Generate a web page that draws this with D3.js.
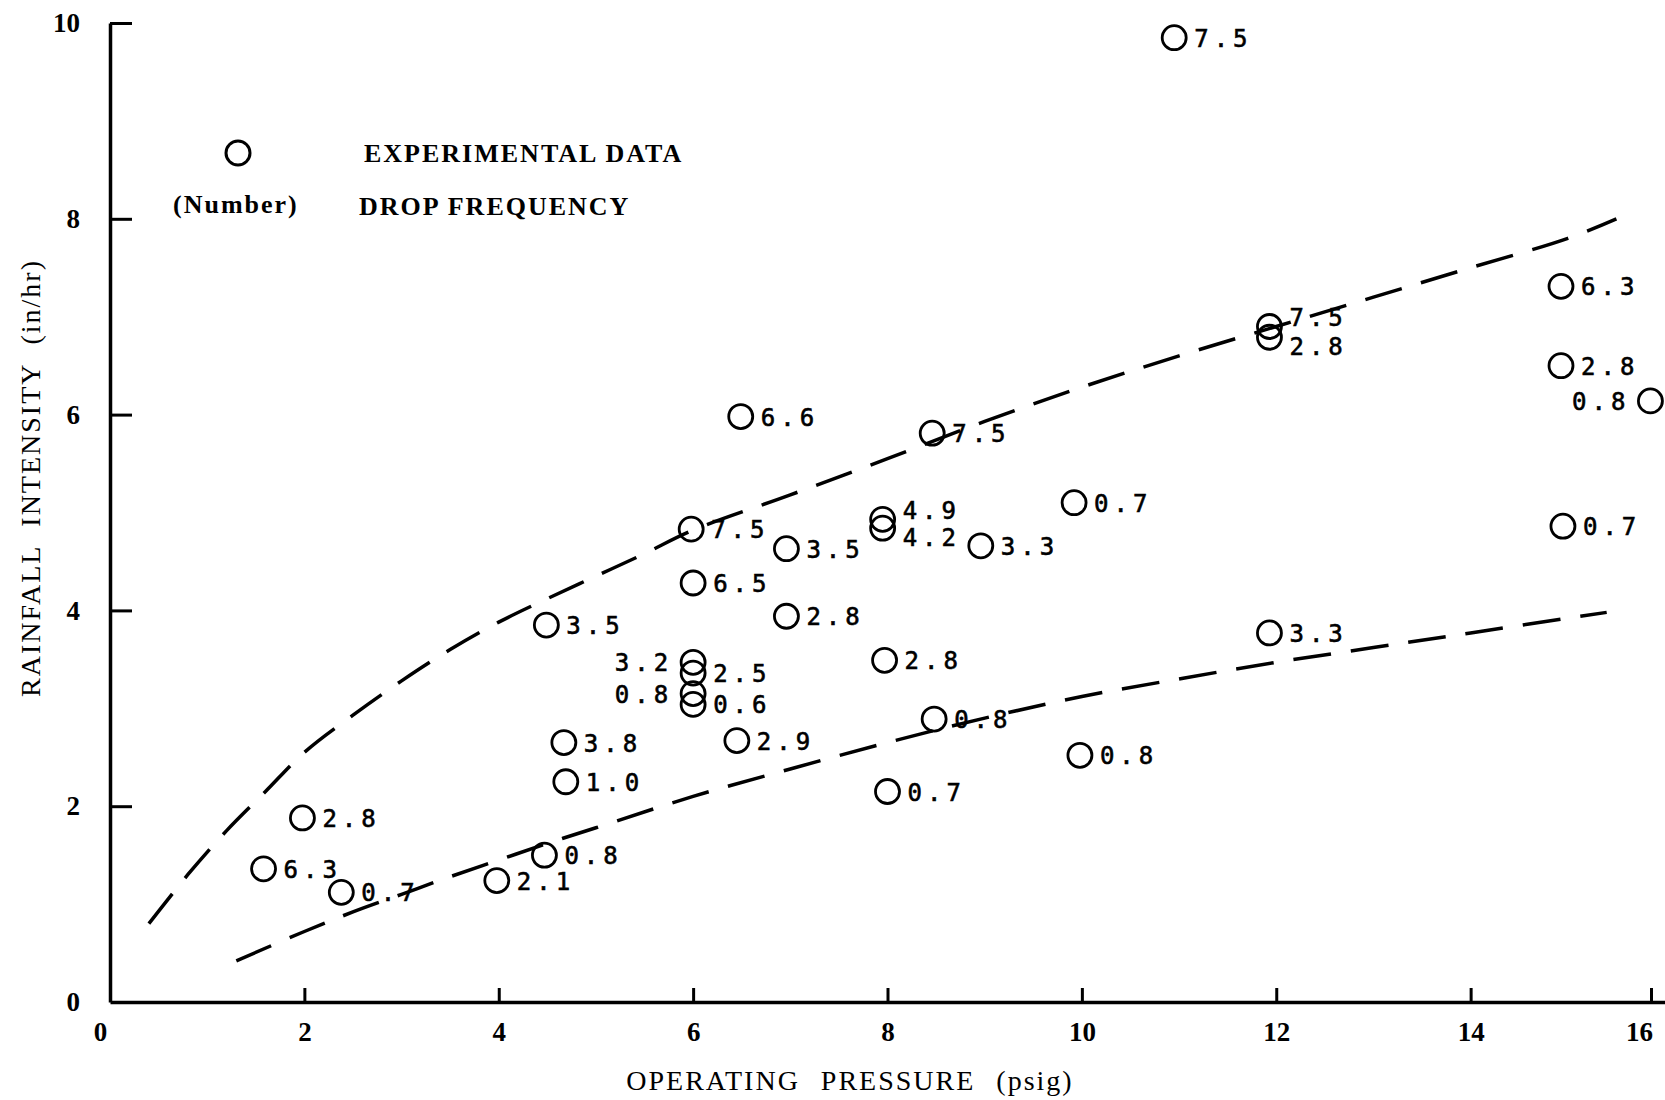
<!DOCTYPE html>
<html>
<head>
<meta charset="utf-8">
<script src="https://cdn.jsdelivr.net/npm/d3@7"></script>
<style>
  body { margin: 0; background: #fff; }
  svg { display: block; }
</style>
</head>
<body>
<script>
const width = 1665;
const height = 1100;

// experimental points: operating pressure (psig), rainfall intensity (in/hr), drop frequency label
const pressure = [10.95, 14.93, 14.93, 15.85, 14.95, 11.93, 11.93, 11.93, 6.49, 8.46, 9.92, 7.95, 7.95, 8.96,
    5.98, 6.96, 6.0, 6.96, 4.49, 7.97, 6.0, 6.0, 6.0, 6.0, 4.67, 6.45, 8.48, 9.98, 4.69, 8.0, 1.98, 1.58, 2.38, 3.98, 4.47];
const intensity = [9.85, 7.31, 6.50, 6.14, 4.86, 6.90, 6.79, 3.77, 5.98, 5.81, 5.10, 4.93, 4.84, 4.66,
    4.83, 4.63, 4.28, 3.94, 3.85, 3.49, 3.47, 3.36, 3.15, 3.04, 2.65, 2.67, 2.89, 2.52, 2.25, 2.15, 1.88, 1.36, 1.12, 1.24, 1.50];
const dropFreq = ["7.5", "6.3", "2.8", "0.8", "0.7", "7.5", "2.8", "3.3", "6.6", "7.5", "0.7", "4.9", "4.2", "3.3",
    "7.5", "3.5", "6.5", "2.8", "3.5", "2.8", "3.2", "2.5", "0.8", "0.6", "3.8", "2.9", "0.8", "0.8", "1.0", "0.7", "2.8", "6.3", "0.7", "2.1", "0.8"];

// dashed envelope curves
const upperX = [0.4, 0.8, 1.2, 1.6, 2.0, 2.5, 3.0, 3.5, 4.0, 4.5, 5.0, 5.5, 6.0, 7.0, 8.0, 9.0, 10.0, 11.0, 12.0, 13.0, 14.0, 15.0, 15.5];
const upperY = [0.8, 1.3, 1.75, 2.15, 2.55, 2.93, 3.28, 3.6, 3.88, 4.12, 4.35, 4.58, 4.82, 5.18, 5.55, 5.93, 6.28, 6.6, 6.9, 7.2, 7.5, 7.8, 8.0];
const lowerX = [1.3, 2.0, 2.5, 3.0, 3.5, 4.0, 4.5, 5.0, 6.0, 7.0, 8.0, 9.0, 10.0, 11.0, 12.0, 13.0, 14.0, 15.4];
const lowerY = [0.42, 0.72, 0.92, 1.1, 1.28, 1.45, 1.62, 1.78, 2.1, 2.38, 2.65, 2.9, 3.12, 3.3, 3.47, 3.62, 3.77, 3.98];

const xTicks = [0, 2, 4, 6, 8, 10, 12, 14, 16];
const yTicks = [0, 2, 4, 6, 8, 10];

const svg = d3.select("body").append("svg")
    .attr("width", width)
    .attr("height", height);

const x = d3.scaleLinear().domain([0, 16]).range([110, 1665]);
const y = d3.scaleLinear().domain([0, 10]).range([1002, 23]);

const serif = "'Liberation Serif', 'DejaVu Serif', serif";
const mono = "'DejaVu Sans Mono', 'Liberation Mono', monospace";

// axes
const xAxis = svg.append("g")
    .attr("transform", `translate(0, ${y(0)})`)
    .call(d3.axisBottom(x).tickValues(xTicks).tickSizeInner(-14).tickSizeOuter(0).tickPadding(20));
const yAxis = svg.append("g")
    .attr("transform", `translate(${x(0)}, 0)`)
    .call(d3.axisLeft(y).tickValues(yTicks).tickSizeInner(-22).tickSizeOuter(0).tickPadding(30));

[xAxis, yAxis].forEach(g => {
    g.select(".domain").attr("stroke", "#000").attr("stroke-width", 3.5);
    g.selectAll(".tick line").attr("stroke", "#000").attr("stroke-width", 3);
    g.selectAll(".tick text")
        .attr("fill", "#000")
        .style("font-family", serif)
        .style("font-weight", "bold")
        .style("font-size", "27px");
});
xAxis.selectAll(".tick").filter(d => d === 0).select("line").remove();
yAxis.selectAll(".tick").filter(d => d === 0).select("line").remove();
xAxis.selectAll(".tick").filter(d => d === 0).select("text").attr("dx", -10);
xAxis.selectAll(".tick").filter(d => d === 16).select("text").attr("dx", -26);
xAxis.selectAll(".tick").filter(d => d === 16).select("line").attr("x1", -14).attr("x2", -14);

// dashed curves
const line = d3.line().x(d => x(d[0])).y(d => y(d[1])).curve(d3.curveCatmullRom);
[[upperX, upperY], [lowerX, lowerY]].forEach(([xs, ys]) => {
    svg.append("path")
        .datum(xs.map((v, i) => [v, ys[i]]))
        .attr("d", line)
        .attr("fill", "none")
        .attr("stroke", "#000")
        .attr("stroke-width", 3.5)
        .attr("stroke-dasharray", "38,20");
});

// points
const leftLabels = new Set([3, 20, 22]);
const labelShift = { 5: -9, 6: 9, 11: -9, 12: 9 };
const pts = pressure.map((p, i) => ({ p: p, r: intensity[i], f: dropFreq[i], i: i }));

svg.append("g")
    .selectAll("circle")
    .data(pts)
    .enter()
    .append("circle")
    .attr("cx", d => x(d.p))
    .attr("cy", d => y(d.r))
    .attr("r", 12)
    .attr("fill", "none")
    .attr("stroke", "#000")
    .attr("stroke-width", 2.8);

svg.append("g")
    .selectAll("text")
    .data(pts)
    .enter()
    .append("text")
    .attr("x", d => leftLabels.has(d.i) ? x(d.p) - 20 : x(d.p) + 20)
    .attr("y", d => y(d.r) + 9 + (labelShift[d.i] || 0))
    .attr("text-anchor", d => leftLabels.has(d.i) ? "end" : "start")
    .style("font-family", mono)
    .style("font-size", "24px")
    .style("letter-spacing", "5px")
    .attr("stroke", "#000")
    .attr("stroke-width", 0.6)
    .text(d => d.f);

// legend
svg.append("circle")
    .attr("cx", 238).attr("cy", 153).attr("r", 12)
    .attr("fill", "none").attr("stroke", "#000").attr("stroke-width", 3);

const legendText = [
    { t: "EXPERIMENTAL DATA", x: 364, y: 162 },
    { t: "(Number)", x: 173, y: 213 },
    { t: "DROP FREQUENCY", x: 359, y: 215 }
];
svg.append("g")
    .selectAll("text")
    .data(legendText)
    .enter()
    .append("text")
    .attr("x", d => d.x)
    .attr("y", d => d.y)
    .style("font-family", serif)
    .style("font-weight", "bold")
    .style("font-size", "26px")
    .style("letter-spacing", "2px")
    .text(d => d.t);

// axis titles
svg.append("text")
    .attr("x", 850)
    .attr("y", 1090)
    .attr("text-anchor", "middle")
    .style("font-family", serif)
    .style("font-size", "28px")
    .style("letter-spacing", "2px")
    .style("word-spacing", "12px")
    .text("OPERATING PRESSURE (psig)");

svg.append("text")
    .attr("transform", "translate(40, 478) rotate(-90)")
    .attr("text-anchor", "middle")
    .style("font-family", serif)
    .style("font-size", "28px")
    .style("letter-spacing", "2px")
    .style("word-spacing", "10px")
    .text("RAINFALL INTENSITY (in/hr)");
</script>
</body>
</html>
